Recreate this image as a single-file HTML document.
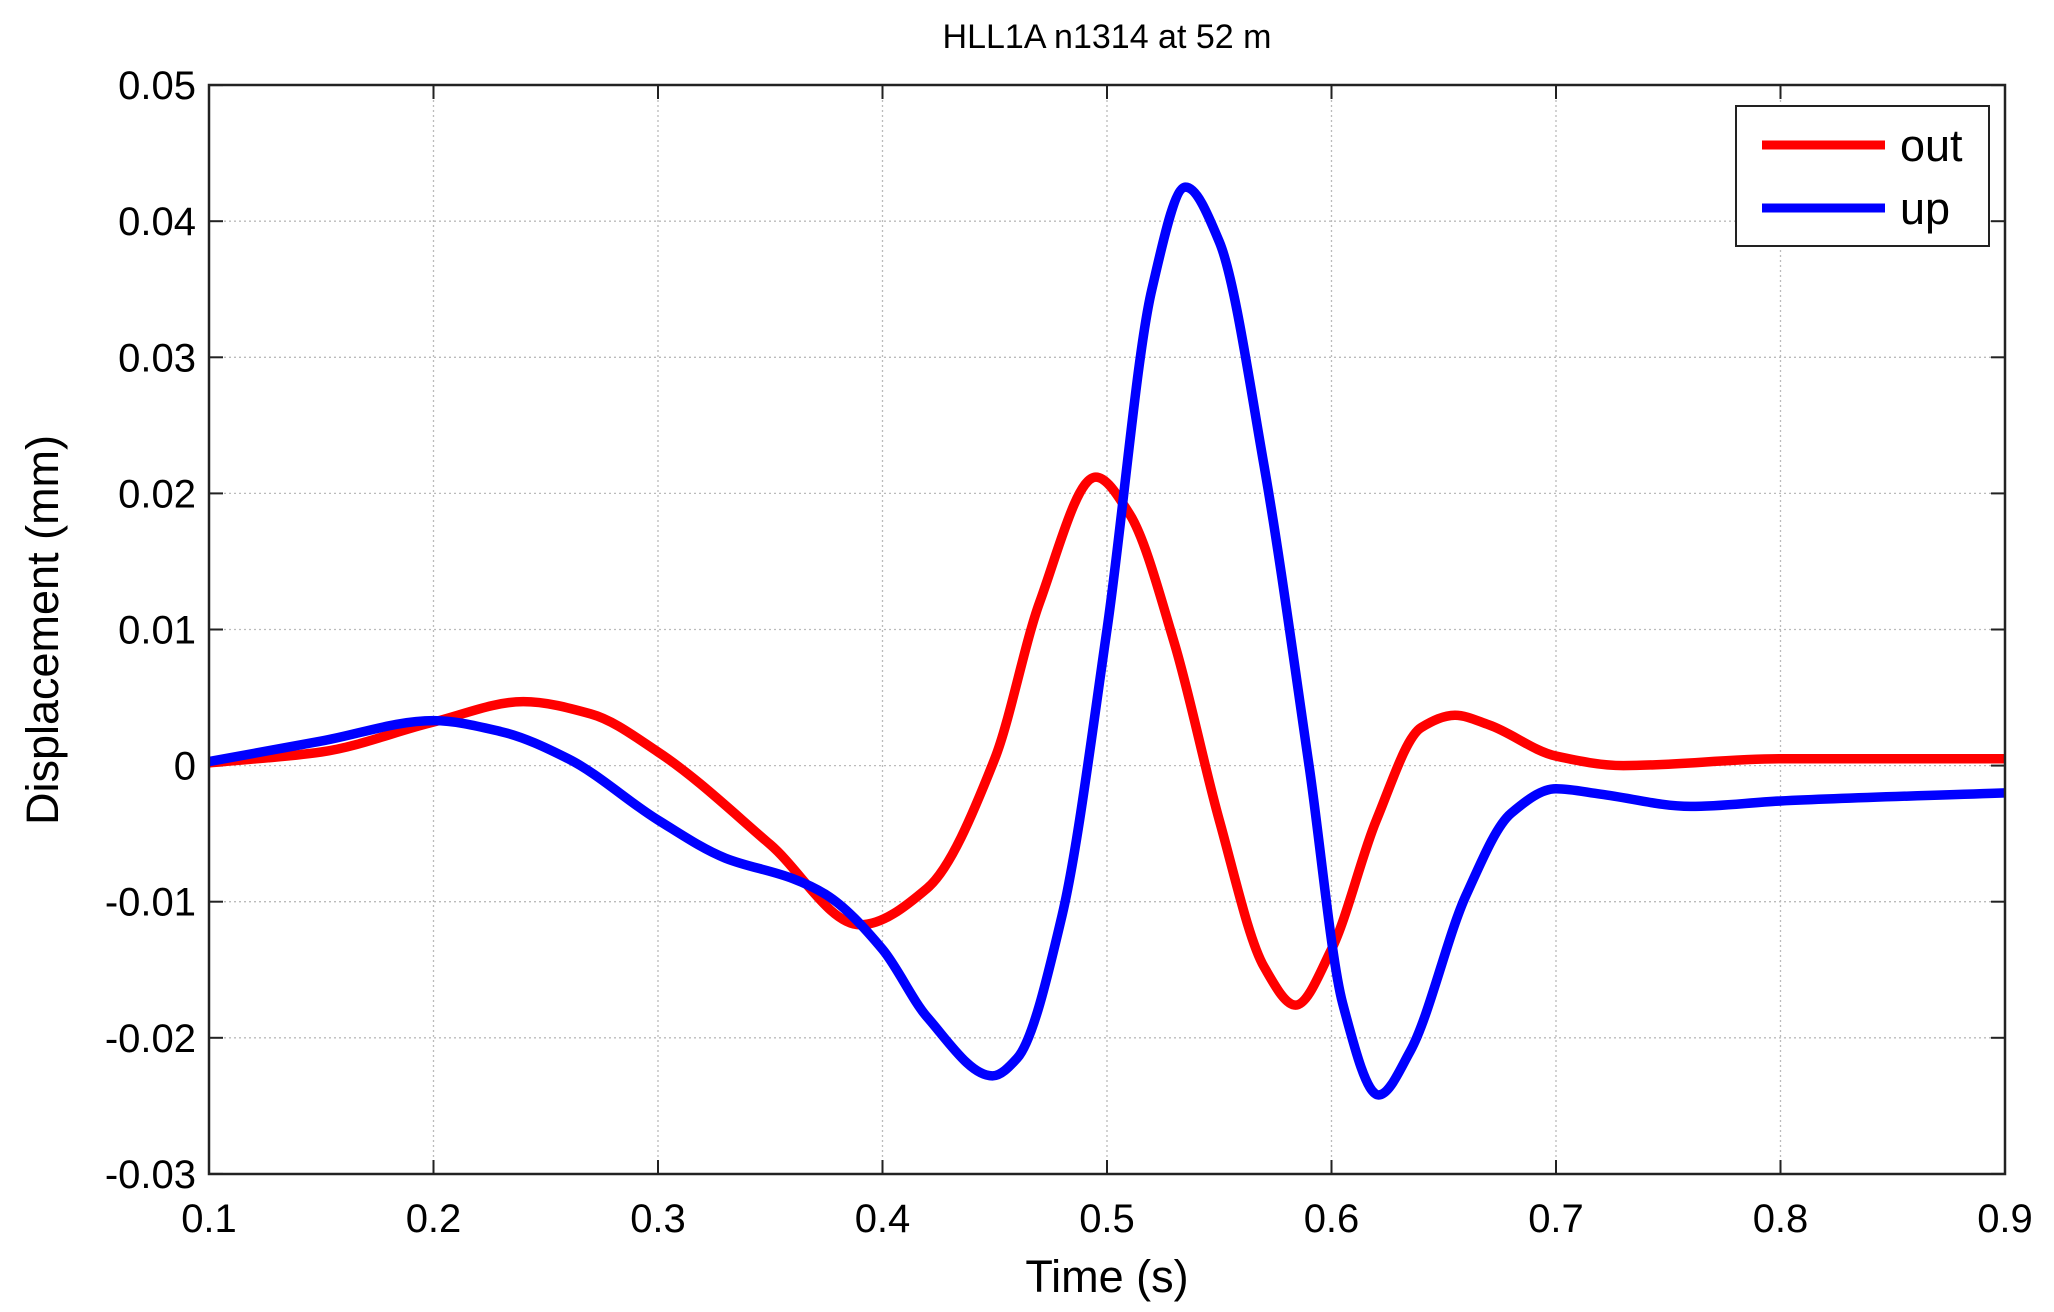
<!DOCTYPE html>
<html><head><style>body{margin:0;background:#fff}svg{display:block}text{font-family:"Liberation Sans",Arial,sans-serif;fill:#000}</style></head>
<body>
<svg id="s" width="2054" height="1312" xmlns="http://www.w3.org/2000/svg">
<rect width="2054" height="1312" fill="#fff"/>
<g id="grid" stroke="#bbb" stroke-width="1.3" stroke-dasharray="2,3"></g>
<g id="ticks" stroke="#222" stroke-width="2"></g>
<g id="lbl" font-size="40"></g>
<path id="red" fill="none" stroke="#ff0000" stroke-width="9.5" stroke-linejoin="round"/>
<path id="blue" fill="none" stroke="#0000ff" stroke-width="9.5" stroke-linejoin="round"/>
<rect x="209" y="85" width="1796" height="1089" fill="none" stroke="#222" stroke-width="2.5"/>
<text x="1107" y="48" font-size="34" text-anchor="middle">HLL1A n1314 at 52 m</text>
<text x="1107" y="1292" font-size="45" text-anchor="middle">Time (s)</text>
<text transform="translate(58,630) rotate(-90)" font-size="45" text-anchor="middle">Displacement (mm)</text>
<rect x="1736" y="106" width="253" height="140" fill="#fff" stroke="#222" stroke-width="2"/>
<line x1="1762" y1="145" x2="1885" y2="145" stroke="#ff0000" stroke-width="9"/>
<line x1="1762" y1="208" x2="1885" y2="208" stroke="#0000ff" stroke-width="9"/>
<text x="1900" y="161" font-size="45">out</text>
<text x="1900" y="224" font-size="45">up</text>
</svg>
<script>
const X=t=>209+(t-0.1)/0.1*224.5, Y=v=>765.6-v/0.01*136.1;
const g=document.getElementById('grid'),tk=document.getElementById('ticks'),lb=document.getElementById('lbl');
const ns='http://www.w3.org/2000/svg';
function el(p,tag,a,txt){const e=document.createElementNS(ns,tag);for(const k in a)e.setAttribute(k,a[k]);if(txt!==undefined)e.textContent=txt;p.appendChild(e);}
for(let i=1;i<=9;i++){const t=i/10,x=X(t);
 if(i>1&&i<9){el(g,'line',{x1:x,y1:85,x2:x,y2:1174});}
 el(tk,'line',{x1:x,y1:1174,x2:x,y2:1160});el(tk,'line',{x1:x,y1:85,x2:x,y2:99});
 el(lb,'text',{x:x,y:1232,'text-anchor':'middle'},t.toFixed(1));}
for(let j=-3;j<=5;j++){const v=j/100,y=Y(v);
 if(j>-3&&j<5)el(g,'line',{x1:209,y1:y,x2:2005,y2:y});
 el(tk,'line',{x1:209,y1:y,x2:223,y2:y});el(tk,'line',{x1:2005,y1:y,x2:1991,y2:y});
 el(lb,'text',{x:196,y:y+14,'text-anchor':'end'},j==0?'0':v.toFixed(2));}
function path(pts){const n=pts.length,x=pts.map(p=>p[0]),y=pts.map(p=>p[1]);
 const d=[],m=[];for(let i=0;i<n-1;i++)d.push((y[i+1]-y[i])/(x[i+1]-x[i]));
 m[0]=d[0];m[n-1]=d[n-2];
 for(let i=1;i<n-1;i++){if(d[i-1]*d[i]<=0)m[i]=0;else{const w1=2*(x[i+1]-x[i])+(x[i]-x[i-1]),w2=(x[i+1]-x[i])+2*(x[i]-x[i-1]);m[i]=(w1+w2)/(w1/d[i-1]+w2/d[i]);}}
 let s='M'+X(x[0])+','+Y(y[0]);
 for(let i=0;i<n-1;i++){const h=x[i+1]-x[i];
  s+=' C'+X(x[i]+h/3)+','+Y(y[i]+m[i]*h/3)+' '+X(x[i+1]-h/3)+','+Y(y[i+1]-m[i+1]*h/3)+' '+X(x[i+1])+','+Y(y[i+1]);}
 return s;}
const red=[[0.1,0.0002],[0.15,0.001],[0.2,0.0032],[0.24,0.0047],[0.27,0.0038],[0.3,0.001],[0.35,-0.0058],[0.39,-0.0117],[0.42,-0.009],[0.45,0.0005],[0.47,0.012],[0.495,0.0212],[0.51,0.0185],[0.53,0.009],[0.55,-0.004],[0.57,-0.0148],[0.584,-0.0176],[0.6,-0.0135],[0.62,-0.004],[0.64,0.0028],[0.655,0.0037],[0.67,0.003],[0.7,0.0007],[0.73,0.0],[0.8,0.0005],[0.9,0.0005]];
const blue=[[0.1,0.0003],[0.15,0.0018],[0.2,0.0033],[0.23,0.0025],[0.26,0.0005],[0.3,-0.004],[0.33,-0.0068],[0.36,-0.0083],[0.375,-0.0095],[0.4,-0.0135],[0.42,-0.0185],[0.449,-0.0228],[0.46,-0.0215],[0.48,-0.011],[0.5,0.01],[0.52,0.035],[0.535,0.0425],[0.55,0.0385],[0.57,0.022],[0.59,0.0],[0.605,-0.0175],[0.621,-0.0242],[0.635,-0.021],[0.66,-0.0095],[0.68,-0.0035],[0.7,-0.0017],[0.72,-0.0021],[0.76,-0.003],[0.8,-0.0026],[0.9,-0.002]];
document.getElementById('red').setAttribute('d',path(red));
document.getElementById('blue').setAttribute('d',path(blue));
</script>
</body></html>
